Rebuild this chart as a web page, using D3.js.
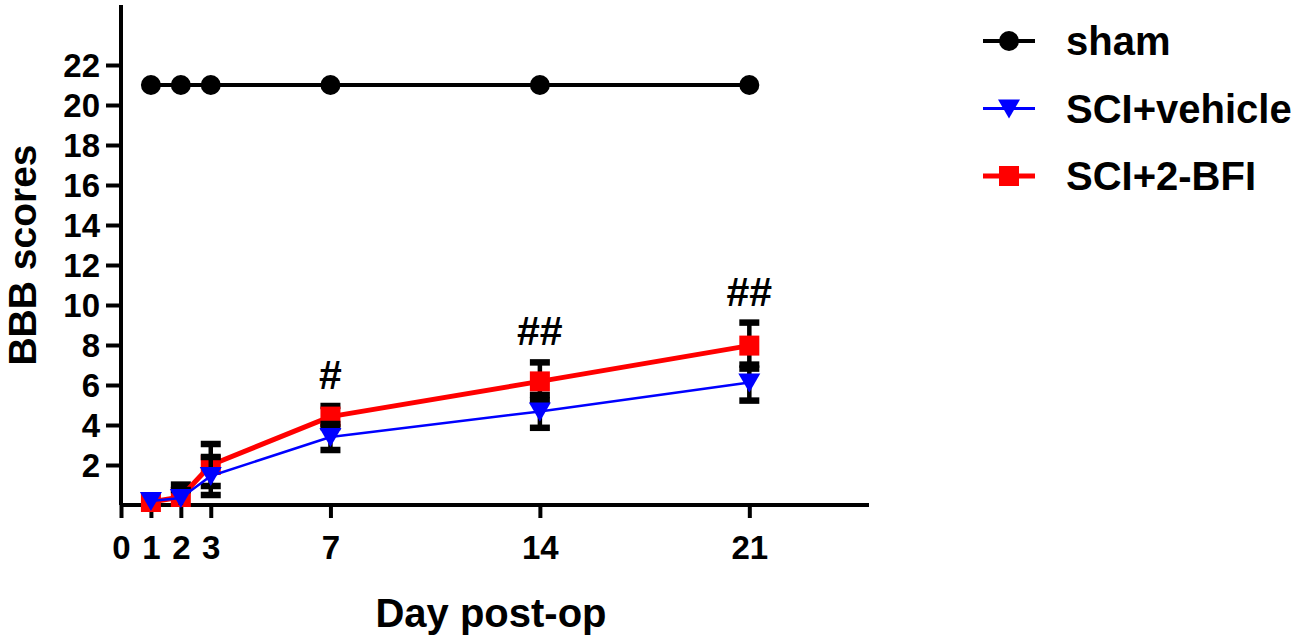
<!DOCTYPE html>
<html>
<head>
<meta charset="utf-8">
<script src="https://cdn.jsdelivr.net/npm/d3@7"></script>
<style>
  body { margin: 0; background: #fff; }
  svg { display: block; }
  text { font-family: "Liberation Sans", Arial, sans-serif; font-weight: bold; fill: #000; }
</style>
</head>
<body>
<div class="viewport"></div>
<script>
// days after surgery
var days = [1, 2, 3, 7, 14, 21];
var xTicks = [0, 1, 2, 3, 7, 14, 21];
var yTicks = [2, 4, 6, 8, 10, 12, 14, 16, 18, 20, 22];

// BBB means and SEM per group
var shamMean = [21, 21, 21, 21, 21, 21];
var shamSem = [0, 0, 0, 0, 0, 0];
var vehicleMean = [0.2, 0.35, 1.45, 3.4, 4.68, 6.12];
var vehicleSem = [0, 0.4, 0.95, 0.65, 0.82, 0.9];
var bfiMean = [0.15, 0.4, 2.0, 4.42, 6.18, 7.97];
var bfiSem = [0, 0.62, 1.05, 0.53, 0.95, 1.15];

// significance marks over the 2-BFI group
var markDays = [7, 14, 21];
var markText = ["#", "##", "##"];

var width = 1300, height = 639;

var svg = d3.select('.viewport').append('svg')
  .attr('width', width)
  .attr('height', height);

var x = d3.scaleLinear().domain([0, 25]).range([121, 869]);
var y = d3.scaleLinear().domain([0, 25]).range([505, 5]);

function rows(mean, sem) {
  return days.map((d, i) => ({ day: d, v: mean[i], e: sem[i] }));
}

var groups = [
  { name: "sham", color: "black", width: 4, symbol: "circle", data: rows(shamMean, shamSem) },
  { name: "SCI+2-BFI", color: "#ff0000", width: 5, symbol: "square", data: rows(bfiMean, bfiSem) },
  { name: "SCI+vehicle", color: "#0000ff", width: 2.5, symbol: "triangle", data: rows(vehicleMean, vehicleSem) }
];

// axes
var yAxis = svg.append('g')
  .attr('transform', 'translate(' + x(0) + ',0)')
  .call(d3.axisLeft(y).tickValues(yTicks).tickSize(15).tickPadding(6));

var xAxis = svg.append('g')
  .attr('transform', 'translate(0,' + y(0) + ')')
  .call(d3.axisBottom(x).tickValues(xTicks).tickSize(13).tickPadding(18));

[yAxis, xAxis].forEach(a => {
  a.select('.domain').attr('stroke', 'black').attr('stroke-width', 4);
  a.selectAll('.tick line').attr('stroke', 'black').attr('stroke-width', 4);
  a.selectAll('.tick text')
    .style('font-family', '"Liberation Sans", Arial, sans-serif')
    .style('font-weight', 'bold')
    .style('font-size', '33px')
    .attr('fill', 'black');
});
yAxis.selectAll('.tick text').attr('dy', '0.36em');
xAxis.select('.domain').attr('d', 'M' + x(0) + ',0H' + x(25));
yAxis.select('.domain').attr('d', 'M0,' + y(0) + 'V' + y(25));

// axis titles
svg.append('text')
  .attr('transform', 'translate(36,' + y(12.5) + ') rotate(-90)')
  .attr('text-anchor', 'middle')
  .style('font-size', '39px')
  .text('BBB scores');

svg.append('text')
  .attr('x', 491)
  .attr('y', 627)
  .attr('text-anchor', 'middle')
  .style('font-size', '40px')
  .text('Day post-op');

function drawMarker(sel, symbol, color) {
  if (symbol === "circle") {
    sel.append('circle').attr('r', 10).attr('fill', color);
  } else if (symbol === "square") {
    sel.append('rect').attr('x', -10).attr('y', -10).attr('width', 20).attr('height', 20).attr('fill', color);
  } else {
    sel.append('path').attr('d', 'M-11,-9L11,-9L0,10Z').attr('fill', color);
  }
}

var line = d3.line()
  .x(d => x(d.day))
  .y(d => y(d.v));

groups.forEach(g => {
  var layer = svg.append('g');

  // error bars
  var bars = layer.selectAll('.err')
    .data(g.data.filter(d => d.e > 0))
    .join('g');
  bars.append('line')
    .attr('x1', d => x(d.day)).attr('x2', d => x(d.day))
    .attr('y1', d => y(Math.max(0, d.v - d.e))).attr('y2', d => y(d.v + d.e))
    .attr('stroke', 'black').attr('stroke-width', 4.5);
  bars.append('line')
    .attr('x1', d => x(d.day) - 10).attr('x2', d => x(d.day) + 10)
    .attr('y1', d => y(d.v + d.e)).attr('y2', d => y(d.v + d.e))
    .attr('stroke', 'black').attr('stroke-width', 6.5);
  bars.filter(d => d.v - d.e > 0.3).append('line')
    .attr('x1', d => x(d.day) - 10).attr('x2', d => x(d.day) + 10)
    .attr('y1', d => y(d.v - d.e)).attr('y2', d => y(d.v - d.e))
    .attr('stroke', 'black').attr('stroke-width', 6.5);

  layer.append('path')
    .datum(g.data)
    .attr('fill', 'none')
    .attr('stroke', g.color)
    .attr('stroke-width', g.width)
    .attr('stroke-linejoin', 'round')
    .attr('d', line);

  layer.selectAll('.pt')
    .data(g.data)
    .join('g')
    .attr('transform', d => 'translate(' + x(d.day) + ',' + y(d.v) + ')')
    .each(function () { drawMarker(d3.select(this), g.symbol, g.color); });
});

// significance marks
svg.selectAll('.sig')
  .data(markDays)
  .join('text')
  .attr('x', d => x(d))
  .attr('y', (d, i) => {
    var k = days.indexOf(d);
    return y(bfiMean[k] + bfiSem[k]) - 17;
  })
  .attr('text-anchor', 'middle')
  .style('font-size', '41px')
  .text((d, i) => markText[i]);

// legend
var legendOrder = ["sham", "SCI+vehicle", "SCI+2-BFI"];
var legend = svg.selectAll('.leg')
  .data(legendOrder.map(n => groups.find(g => g.name === n)))
  .join('g')
  .attr('transform', (d, i) => 'translate(1009,' + (41 + i * 67.5) + ')');

legend.append('line')
  .attr('x1', -26).attr('x2', 26)
  .attr('stroke', d => d.color)
  .attr('stroke-width', d => Math.max(d.width, 3));
legend.each(function (d) { drawMarker(d3.select(this), d.symbol, d.color); });
legend.append('text')
  .attr('x', 57)
  .attr('y', 14)
  .style('font-size', '40px')
  .text(d => d.name);
</script>
</body>
</html>
